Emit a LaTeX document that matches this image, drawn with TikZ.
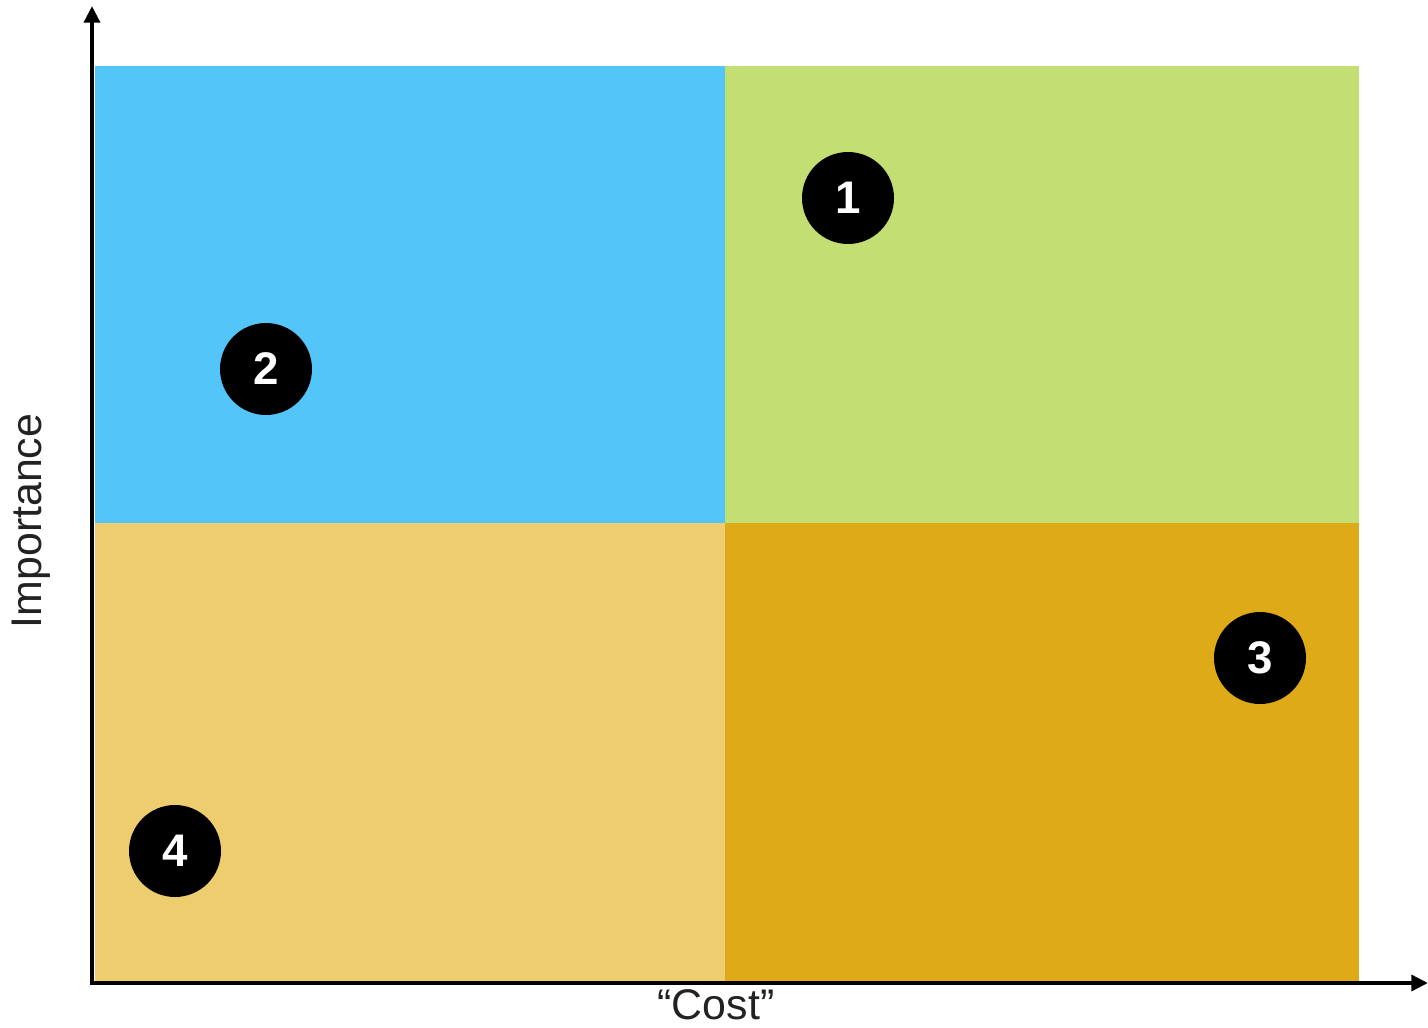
\documentclass[tikz,border=0pt]{standalone}
\usepackage{fontspec}
\setmainfont{Liberation Sans}
\usetikzlibrary{arrows.meta, positioning}
\definecolor{qblue}{HTML}{54C5F8}
\definecolor{qgreen}{HTML}{C3DE73}
\definecolor{qsand}{HTML}{EECD6F}
\definecolor{qgold}{HTML}{DFAA18}
\definecolor{labelgray}{HTML}{222222}
\tikzset{
  >={Triangle[length=9.5pt, width=9pt]},
  every picture/.style={line cap=butt, line join=miter},
  axis/.style={->, line width=2.3pt, black},
  marker/.style={circle, fill=black, minimum size=1.84cm, inner sep=0pt,
    text=white, font=\fontsize{26}{26}\selectfont\bfseries},
  axislabel/.style={text=labelgray, font=\fontsize{24.4}{24.4}\selectfont, inner sep=0pt},
}

\begin{document}
\begin{tikzpicture}[x=0.02cm, y=-0.02cm]
  \useasboundingbox (0,0) rectangle (1428,1028);
  % ---------------- quadrants
  \fill[qblue]  (95,66)   rectangle (725,523);
  \fill[qgreen] (725,66)  rectangle (1359,523);
  \fill[qsand]  (95,523)  rectangle (725,981);
  \fill[qgold]  (725,523) rectangle (1359,981);
  % ---------------- axes
  \coordinate (origin) at (92,983);
  \coordinate (ytip) at (92,6);
  \coordinate (xtip) at (1428,983);
  \draw[axis] ([yshift=-1.15pt]origin) -- (ytip);
  \draw[axis] ([xshift=-1.15pt]origin) -- (xtip);
  % ---------------- markers
  \node[marker] (m1) at (848,198) {1};
  \node[marker] (m2) at (266,369) {2};
  \node[marker] (m3) at (1260,658) {3};
  \node[marker] (m4) at (175,851) {4};
  % ---------------- labels
  \node[axislabel, rotate=90] (ylab) at (31,521) {Importance};
  \node[axislabel] (xlab) at (716,1005) {“Cost”};
\end{tikzpicture}
\end{document}
